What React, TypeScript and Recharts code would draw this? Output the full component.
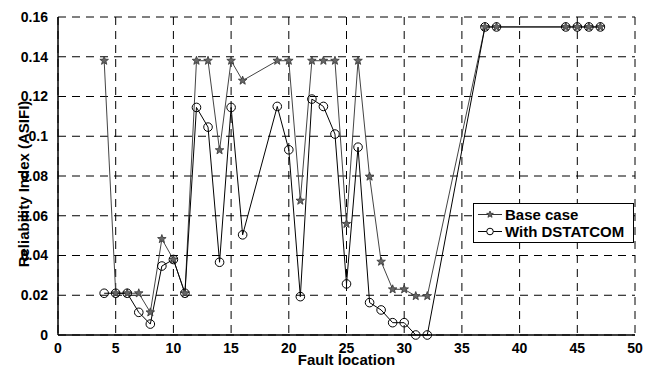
import React from "react";
import {
  LineChart,
  Line,
  XAxis,
  YAxis,
  CartesianGrid,
} from "recharts";

document.body.style.margin = "0";

const faultLocations = [4, 5, 6, 7, 8, 9, 10, 11, 12, 13, 14, 15, 16, 19, 20, 21, 22, 23, 24, 25, 26, 27, 28, 29, 30, 31, 32, 37, 38, 44, 45, 46, 47];
const baseCase = [0.138, 0.021, 0.021, 0.021, 0.0114, 0.0483, 0.038, 0.021, 0.138, 0.138, 0.093, 0.138, 0.128, 0.138, 0.138, 0.0676, 0.138, 0.138, 0.138, 0.0559, 0.138, 0.0797, 0.0369, 0.023, 0.023, 0.0196, 0.0196, 0.155, 0.155, 0.155, 0.155, 0.155, 0.155];
const withDstatcom = [0.021, 0.021, 0.021, 0.0114, 0.0055, 0.0347, 0.038, 0.021, 0.1145, 0.1046, 0.0366, 0.1145, 0.0504, 0.115, 0.0932, 0.0193, 0.1187, 0.115, 0.1011, 0.0257, 0.0945, 0.0163, 0.0126, 0.0062, 0.0062, 0, 0, 0.155, 0.155, 0.155, 0.155, 0.155, 0.155];
const xTicks = [0, 5, 10, 15, 20, 25, 30, 35, 40, 45, 50];
const yTicks = [0, 0.02, 0.04, 0.06, 0.08, 0.1, 0.12, 0.14, 0.16];

const data = faultLocations.map((x, i) => ({
  x,
  base: baseCase[i],
  dstatcom: withDstatcom[i],
}));

const FONT = "'Liberation Sans', Arial, sans-serif";

function starPoints(cx: number, cy: number, r: number) {
  const pts: string[] = [];
  for (let k = 0; k < 10; k++) {
    const rr = k % 2 === 0 ? r : r * 0.42;
    const a = -Math.PI / 2 + (k * Math.PI) / 5;
    pts.push(`${cx + rr * Math.cos(a)},${cy + rr * Math.sin(a)}`);
  }
  return pts.join(" ");
}

const StarDot = (props: any) => {
  const { cx, cy, key } = props;
  if (cx == null || cy == null) return null;
  return (
    <polygon
      key={key}
      points={starPoints(cx, cy, 4.5)}
      fill="#666"
      stroke="#333"
      strokeWidth={0.8}
    />
  );
};

const CircleDot = (props: any) => {
  const { cx, cy, key } = props;
  if (cx == null || cy == null) return null;
  return <circle key={key} cx={cx} cy={cy} r={4.3} fill="none" stroke="#000" strokeWidth={1} />;
};

const YLabel = (props: any) => {
  const vb = props.viewBox || {};
  const x = (vb.x || 0) + 23;
  const y = (vb.y || 0) + (vb.height || 0) / 2 + 8;
  return (
    <text
      x={x}
      y={y}
      transform={`rotate(-90, ${x}, ${y})`}
      textAnchor="middle"
      dominantBaseline="central"
      fill="#000"
      fontFamily={FONT}
      fontWeight="bold"
      fontSize={15}
    >
      Reliability Index (ASIFI)
    </text>
  );
};

const LegendBox = () => (
  <div
    style={{
      position: "absolute",
      left: 473,
      top: 203,
      border: "1.5px solid #000",
      background: "#fff",
      width: 161,
      height: 40,
      boxSizing: "border-box",
      fontFamily: FONT,
      fontWeight: "bold",
      fontSize: 15,
      padding: "2px 0 0 3px",
      lineHeight: "17px",
    }}
  >
    <div style={{ display: "flex", alignItems: "center" }}>
      <svg width={26} height={17}>
        <line x1={1} y1={8.5} x2={25} y2={8.5} stroke="#333" strokeWidth={1} />
        <polygon points={starPoints(13, 8.5, 3.5)} fill="#666" stroke="#333" strokeWidth={0.8} />
      </svg>
      <span style={{ marginLeft: 2 }}>Base case</span>
    </div>
    <div style={{ display: "flex", alignItems: "center" }}>
      <svg width={26} height={17}>
        <line x1={1} y1={8.5} x2={25} y2={8.5} stroke="#000" strokeWidth={1} />
        <circle cx={13} cy={8.5} r={3.3} fill="#fff" stroke="#000" strokeWidth={1} />
      </svg>
      <span style={{ marginLeft: 2 }}>With DSTATCOM</span>
    </div>
  </div>
);

export default function App() {
  return (
    <div style={{ width: 646, height: 367, background: "#fff", position: "relative" }}>
      <LineChart
        width={646}
        height={367}
        data={data}
        margin={{ top: 17, right: 11, bottom: 0, left: 0 }}
      >
        <CartesianGrid stroke="#000" strokeDasharray="8 6" strokeWidth={1} />
        <XAxis
          dataKey="x"
          type="number"
          domain={[0, 50]}
          ticks={xTicks}
          interval={0}
          axisLine={{ stroke: "#000", strokeWidth: 1.5 }}
          tickLine={false}
          tick={{ fill: "#000", fontFamily: FONT, fontWeight: "bold", fontSize: 14 }}
          tickMargin={2}
          height={32}
          label={{
            value: "Fault location",
            position: "insideBottom",
            offset: 2,
            fill: "#000",
            fontFamily: FONT,
            fontWeight: "bold",
            fontSize: 15,
          }}
        />
        <XAxis
          xAxisId="top"
          orientation="top"
          dataKey="x"
          type="number"
          domain={[0, 50]}
          ticks={xTicks}
          axisLine={{ stroke: "#000", strokeWidth: 1.5 }}
          tickLine={false}
          tick={false}
          height={0}
        />
        <YAxis
          type="number"
          domain={[0, 0.16]}
          ticks={yTicks}
          interval={0}
          width={58}
          axisLine={{ stroke: "#000", strokeWidth: 1.5 }}
          tickLine={false}
          tick={{ fill: "#000", fontFamily: FONT, fontWeight: "bold", fontSize: 14 }}
          tickMargin={4}
          label={<YLabel />}
        />
        <YAxis
          yAxisId="right"
          orientation="right"
          domain={[0, 0.16]}
          axisLine={{ stroke: "#000", strokeWidth: 1.5 }}
          tickLine={false}
          tick={false}
          width={0}
        />
        <Line
          dataKey="base"
          name="Base case"
          stroke="#444"
          strokeWidth={1}
          dot={StarDot}
          activeDot={false}
          isAnimationActive={false}
        />
        <Line
          dataKey="dstatcom"
          name="With DSTATCOM"
          stroke="#000"
          strokeWidth={1}
          dot={CircleDot}
          activeDot={false}
          isAnimationActive={false}
        />
      </LineChart>
      <LegendBox />
    </div>
  );
}
